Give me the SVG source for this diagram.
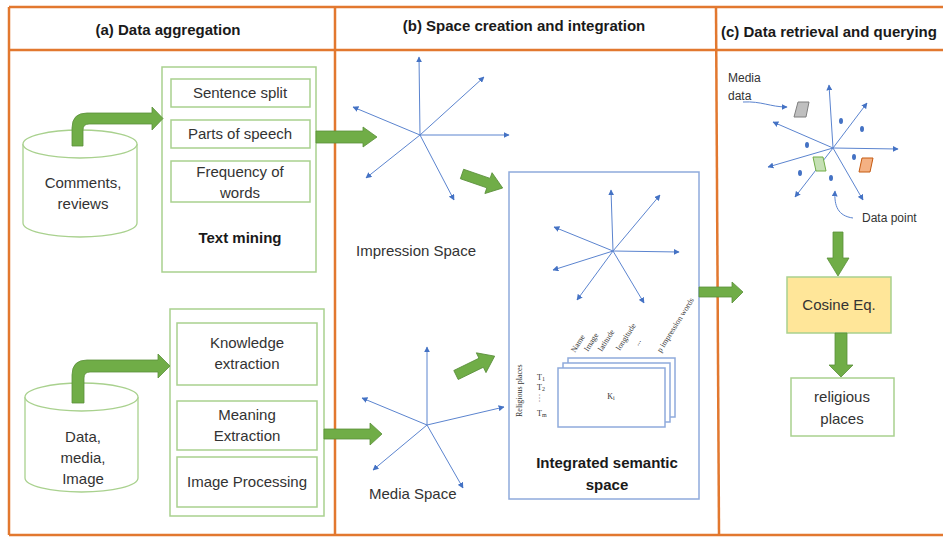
<svg xmlns="http://www.w3.org/2000/svg" width="943" height="537" viewBox="0 0 943 537">
<defs>
<style>
.frame{stroke:#e2782f;stroke-width:2.5;fill:none}
.hdr{font-family:"Liberation Sans",Arial,sans-serif;font-weight:bold;font-size:15px;fill:#1a1a1a}
.t{font-family:"Liberation Sans",Arial,sans-serif;font-size:15px;fill:#333}
.tb{font-family:"Liberation Sans",Arial,sans-serif;font-size:15px;font-weight:bold;fill:#1a1a1a}
.sm{font-family:"Liberation Sans",Arial,sans-serif;font-size:12px;fill:#333}
.gbox{fill:#fff;stroke:#a9d18e;stroke-width:1.5}
.bbox{fill:#fff;stroke:#8faadc;stroke-width:1.5}
.garrow{fill:#70ad47;stroke:#5a8f3a;stroke-width:0.8}
.ax{stroke:#5b84cf;stroke-width:1;fill:none;marker-end:url(#ah)}
.cyl{fill:#fff;stroke:#a9d18e;stroke-width:1.3}
.tiny{font-family:"Liberation Serif","Times New Roman",serif;font-size:8px;fill:#333}
.dot{fill:#4472c4}
</style>
<marker id="ah" viewBox="0 0 10 10" refX="9" refY="5" markerWidth="6" markerHeight="6" orient="auto" markerUnits="userSpaceOnUse">
<path d="M0,0 L10,5 L0,10 Z" fill="#4472c4"/>
</marker>
</defs>
<rect x="0" y="0" width="943" height="537" fill="#fff"/>

<g id="frames">
<line class="frame" x1="9" y1="7" x2="943" y2="7"/>
<line class="frame" x1="9" y1="50" x2="943" y2="50"/>
<line class="frame" x1="9" y1="7" x2="9" y2="535"/>
<line class="frame" x1="9" y1="535" x2="943" y2="535"/>
<line class="frame" x1="335" y1="7" x2="335" y2="535"/>
<line class="frame" x1="716" y1="7" x2="719" y2="535"/>
<text class="hdr" x="168" y="35" text-anchor="middle">(a) Data aggregation</text>
<text class="hdr" x="524" y="31" text-anchor="middle">(b) Space creation and integration</text>
<text class="hdr" x="721" y="37">(c) Data retrieval and querying</text>
</g>

<g id="comments-db">
<path class="cyl" d="M23,144 A57,14 0 0 1 137,144 L137,223 A57,14 0 0 1 23,223 Z"/>
<path class="cyl" fill="none" d="M23,144 A57,14 0 0 0 137,144"/>
<text class="t" x="83" y="188" text-anchor="middle">Comments,</text>
<text class="t" x="83" y="209" text-anchor="middle">reviews</text>
</g>
<g id="data-db">
<path class="cyl" d="M25,397 A56.5,14 0 0 1 138,397 L138,478 A56.5,14 0 0 1 25,478 Z"/>
<path class="cyl" fill="none" d="M25,397 A56.5,14 0 0 0 138,397"/>
<text class="t" x="83" y="442" text-anchor="middle">Data,</text>
<text class="t" x="83" y="463" text-anchor="middle">media,</text>
<text class="t" x="83" y="484" text-anchor="middle">Image</text>
</g>

<g id="text-mining">
<rect class="gbox" x="162" y="67" width="154" height="205"/>
<rect class="gbox" x="171" y="79" width="139" height="28"/>
<text class="t" x="240" y="98" text-anchor="middle">Sentence split</text>
<rect class="gbox" x="171" y="120" width="139" height="28"/>
<text class="t" x="240" y="139" text-anchor="middle">Parts of speech</text>
<rect class="gbox" x="171" y="161" width="139" height="41"/>
<text class="t" x="240" y="177" text-anchor="middle">Frequency of</text>
<text class="t" x="240" y="198" text-anchor="middle">words</text>
<text class="tb" x="240" y="243" text-anchor="middle">Text mining</text>
</g>

<g id="extraction">
<rect class="gbox" x="170" y="309" width="154" height="207"/>
<rect class="gbox" x="177" y="323" width="140" height="62"/>
<text class="t" x="247" y="348" text-anchor="middle">Knowledge</text>
<text class="t" x="247" y="369" text-anchor="middle">extraction</text>
<rect class="gbox" x="177" y="401" width="140" height="49"/>
<text class="t" x="247" y="420" text-anchor="middle">Meaning</text>
<text class="t" x="247" y="441" text-anchor="middle">Extraction</text>
<rect class="gbox" x="177" y="457" width="140" height="50"/>
<text class="t" x="247" y="487" text-anchor="middle">Image Processing</text>
</g>

<g id="impression-space">
<line class="ax" x1="420" y1="135" x2="419" y2="57"/>
<line class="ax" x1="420" y1="135" x2="484" y2="77"/>
<line class="ax" x1="420" y1="135" x2="353" y2="107"/>
<line class="ax" x1="420" y1="135" x2="509" y2="135"/>
<line class="ax" x1="420" y1="135" x2="366" y2="178"/>
<line class="ax" x1="420" y1="135" x2="454" y2="200"/>
<text class="t" x="356" y="256">Impression Space</text>
</g>

<g id="media-space">
<line class="ax" x1="427" y1="425" x2="427" y2="347"/>
<line class="ax" x1="427" y1="425" x2="362" y2="398"/>
<line class="ax" x1="427" y1="425" x2="504" y2="407"/>
<line class="ax" x1="427" y1="425" x2="373" y2="470"/>
<line class="ax" x1="427" y1="425" x2="463" y2="488"/>
<text class="t" x="369" y="499">Media Space</text>
</g>

<g id="integrated-space">
<rect class="bbox" x="509" y="172" width="190" height="327"/>
<line class="ax" x1="613" y1="251" x2="611" y2="190"/>
<line class="ax" x1="613" y1="251" x2="660" y2="195"/>
<line class="ax" x1="613" y1="251" x2="554" y2="227"/>
<line class="ax" x1="613" y1="251" x2="679" y2="252"/>
<line class="ax" x1="613" y1="251" x2="553" y2="270"/>
<line class="ax" x1="613" y1="251" x2="577" y2="300"/>
<line class="ax" x1="613" y1="251" x2="644" y2="303"/>
<rect class="bbox" x="568" y="358" width="107" height="59"/>
<rect class="bbox" x="563" y="363" width="107" height="59"/>
<rect class="bbox" x="558" y="368" width="107" height="59"/>
<text class="tiny" x="611" y="399" text-anchor="middle">K<tspan font-size="6" dy="1">i</tspan></text>
<text class="tiny" transform="translate(575,353) rotate(-58)">Name</text>
<text class="tiny" transform="translate(588,352) rotate(-58)">Image</text>
<text class="tiny" transform="translate(602,352) rotate(-58)">latitude</text>
<text class="tiny" transform="translate(620,351) rotate(-58)">longitude</text>
<text class="tiny" transform="translate(638,346) rotate(-58)">...</text>
<text class="tiny" transform="translate(661,353) rotate(-58)">p impression words</text>
<text class="tiny" transform="translate(522,417) rotate(-90)">Religious places</text>
<text class="tiny" x="537" y="380">T<tspan font-size="6" dy="1">1</tspan></text>
<text class="tiny" x="537" y="390">T<tspan font-size="6" dy="1">2</tspan></text>
<text class="tiny" transform="translate(539,394) rotate(90)" letter-spacing="1">...</text>
<text class="tiny" x="537" y="416">T<tspan font-size="6" dy="1">m</tspan></text>
<text class="tb" x="607" y="468" text-anchor="middle">Integrated semantic</text>
<text class="tb" x="607" y="490" text-anchor="middle">space</text>
</g>

<g id="query-space">
<line class="ax" x1="833" y1="148" x2="829" y2="85"/>
<line class="ax" x1="833" y1="148" x2="867" y2="103"/>
<line class="ax" x1="833" y1="148" x2="773" y2="122"/>
<line class="ax" x1="833" y1="148" x2="898" y2="149"/>
<line class="ax" x1="833" y1="148" x2="768" y2="167"/>
<line class="ax" x1="833" y1="148" x2="795" y2="197"/>
<line class="ax" x1="833" y1="148" x2="863" y2="200"/>
<polygon points="798,102 809,102 806,117 794,117" fill="#bfbfbf" stroke="#7f7f7f" stroke-width="1"/>
<polygon points="813,157 823,157 826,171 816,171" fill="#c5e0b4" stroke="#70ad47" stroke-width="1"/>
<polygon points="862,158 873,158 870,172 859,172" fill="#f4b183" stroke="#c55a11" stroke-width="1"/>
<ellipse class="dot" cx="841" cy="121" rx="2" ry="3"/>
<ellipse class="dot" cx="862" cy="129" rx="2" ry="3"/>
<ellipse class="dot" cx="807" cy="145" rx="2" ry="3"/>
<ellipse class="dot" cx="854" cy="157" rx="2" ry="3"/>
<ellipse class="dot" cx="800" cy="173" rx="2" ry="3"/>
<ellipse class="dot" cx="831" cy="178" rx="2" ry="3"/>
<text class="sm" x="728" y="82">Media</text>
<text class="sm" x="728" y="100">data</text>
<path class="ax" d="M743,102 C762,101 770,107 787,107"/>
<text class="sm" x="862" y="222">Data point</text>
<path class="ax" d="M853,218 C838,216 834,206 835,191"/>
</g>

<g id="cosine">
<rect x="787" y="277" width="104" height="56" fill="#ffe699" stroke="#a9d18e" stroke-width="1.5"/>
<text class="t" x="839" y="310" text-anchor="middle">Cosine Eq.</text>
</g>

<g id="religious">
<rect class="gbox" x="791" y="378" width="103" height="58"/>
<text class="t" x="842" y="402" text-anchor="middle">religious</text>
<text class="t" x="842" y="424" text-anchor="middle">places</text>
</g>

<g id="connectors">
<path class="garrow" d="M72,146 L72,128 Q72,113 87,113 L152,113 L152,107 L163,118.5 L152,130 L152,124 L89,124 Q83,124 83,130 L83,146 Z"/>
<path class="garrow" d="M72,403 L72,375 Q72,360 87,360 L158,360 L158,354 L170,366 L158,378 L158,372 L90,372 Q84,372 84,378 L84,403 Z"/>
<polygon class="garrow" points="316,131 363,131 363,127 377,137 363,147 363,143 316,143"/>
<polygon class="garrow" points="324,429 370,429 370,423 382,434 370,445 370,439 324,439"/>
<polygon class="garrow" points="0,-5 28,-5 28,-11 43,0 28,11 28,5 0,5" transform="translate(462,174) rotate(19)"/>
<polygon class="garrow" points="0,-5 28,-5 28,-11 43,0 28,11 28,5 0,5" transform="translate(456,375) rotate(-26)"/>
<polygon class="garrow" points="699,287 732,287 732,282 743,292 732,303 732,297 699,297"/>
<polygon class="garrow" points="833,232 843,232 843,258 849,258 838,276 827,258 833,258"/>
<polygon class="garrow" points="835,333 847,333 847,365 853,365 841,377 829,365 835,365"/>
</g>
</svg>
